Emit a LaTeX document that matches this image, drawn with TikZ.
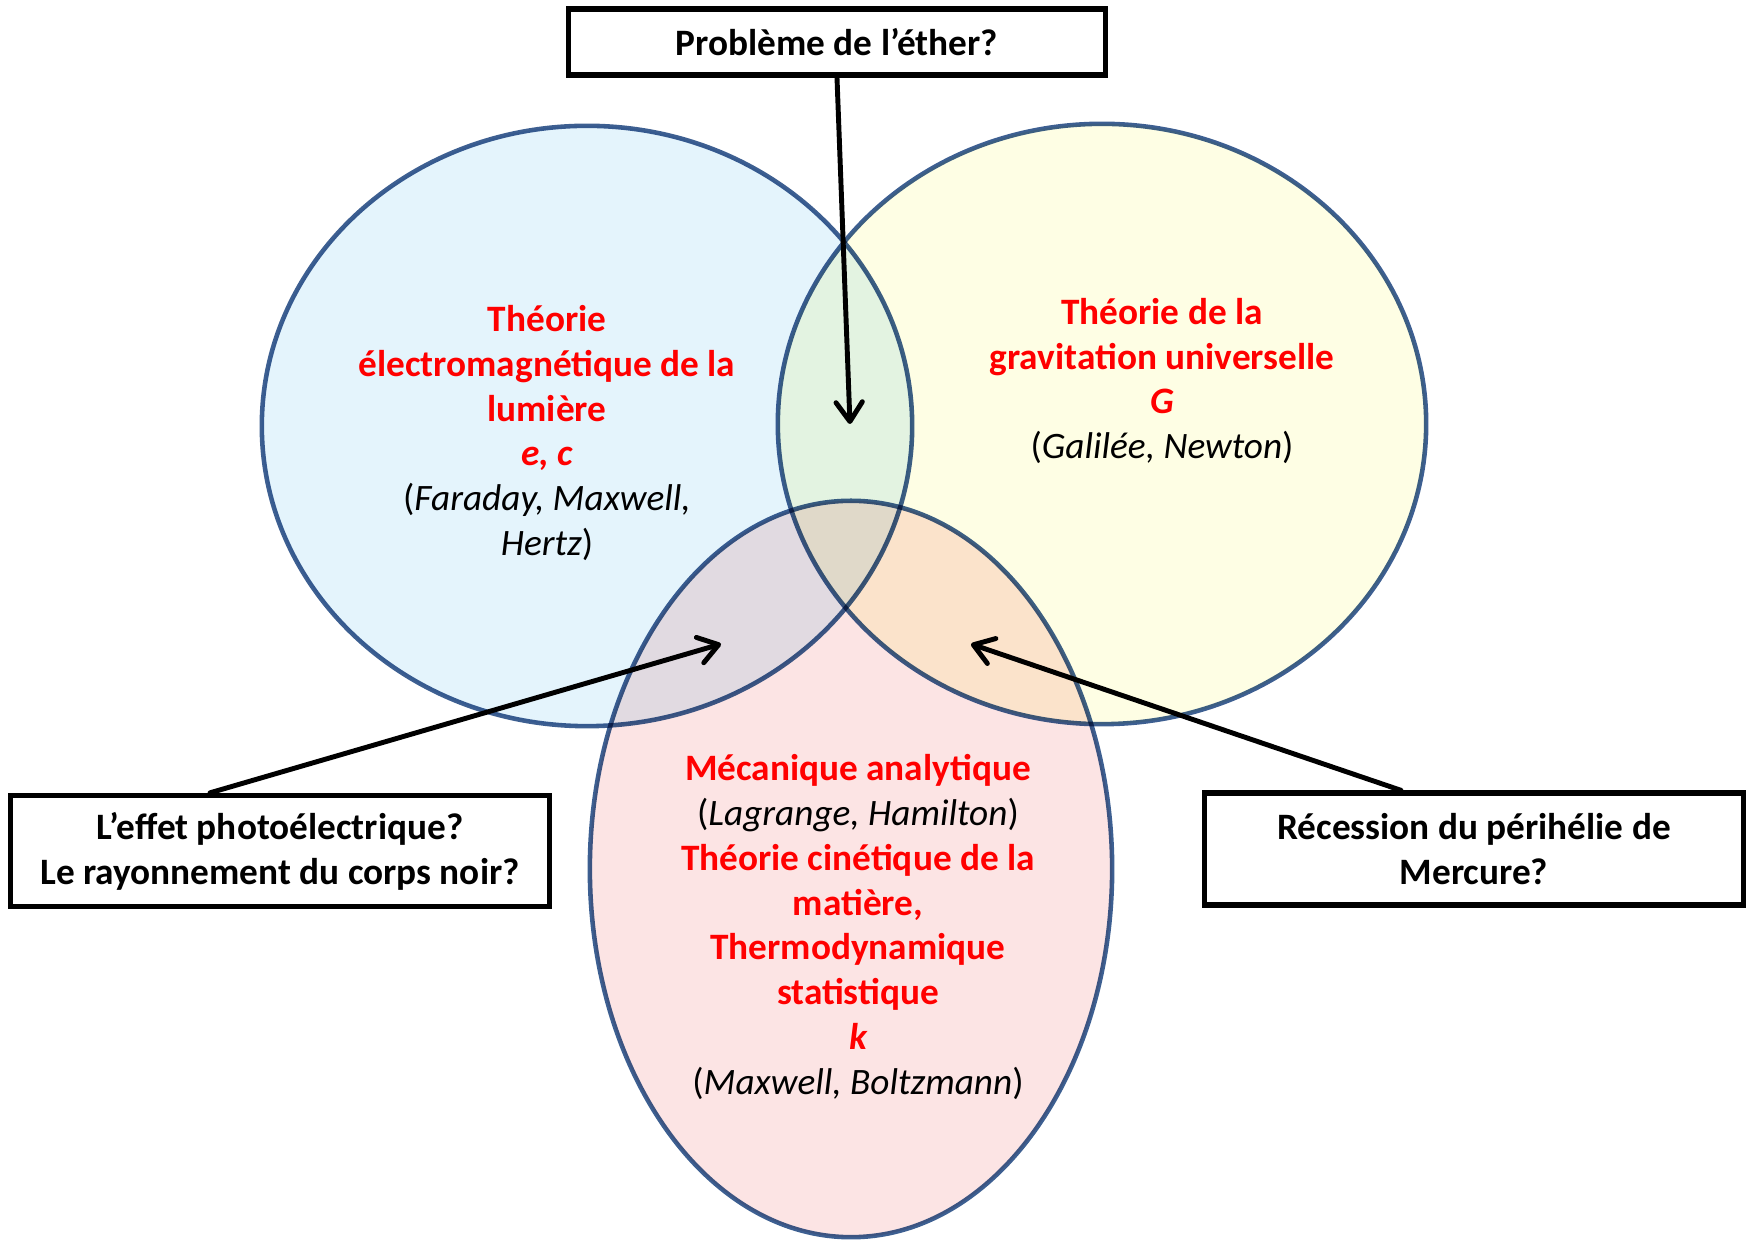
\documentclass[tikz,border=0pt]{standalone}
\usepackage{fontspec}
\setmainfont{Carlito}
\usetikzlibrary{arrows.meta}
\definecolor{bord}{RGB}{61,95,145}
\definecolor{bleu}{RGB}{228,244,252}
\definecolor{jaune}{RGB}{254,254,228}
\definecolor{rose}{RGB}{252,228,228}
\newcommand\rouge[1]{\textcolor{red}{\bfseries #1}}
\begin{document}
\begin{tikzpicture}[x=0.01cm,y=-0.01cm,>={Straight Barb[round,length=5.5pt,width=7.5pt]},
  zone/.style={draw=bord,line width=1.3pt},
  cadre/.style={draw,line width=1.5pt,fill=white,align=center,inner sep=0pt,
    font=\bfseries\fontsize{10.6}{12.75}\selectfont},
  legende/.style={align=center,inner sep=0pt,font=\fontsize{10.6}{12.75}\selectfont},
  fleche/.style={->,line width=1.4pt,line cap=round}]
 \useasboundingbox (0,0) rectangle (1750,1240);
 % les trois domaines
 \begin{scope}[blend group=multiply]
  \draw[zone,fill=bleu] (587,426) ellipse [x radius=3.25cm, y radius=3.0cm];
  \draw[zone,fill=jaune] (1102,424) ellipse [x radius=3.24cm, y radius=3.0cm];
  \draw[zone,fill=rose] (851,869) ellipse [x radius=2.61cm, y radius=3.68cm];
 \end{scope}
 \node[legende] (em) at (547,433) {\rouge{Théorie}\\ \rouge{électromagnétique de la}\\ \rouge{lumière}\\
   \rouge{\itshape e, c}\\ (\textit{Faraday, Maxwell,}\\ \textit{Hertz})};
 \node[legende] (grav) at (1162,381) {\rouge{Théorie de la}\\ \rouge{gravitation universelle}\\
   \rouge{\itshape G}\\ (\textit{Galilée, Newton})};
 \node[legende] (meca) at (858,927) {\rouge{Mécanique analytique}\\ (\textit{Lagrange, Hamilton})\\
   \rouge{Théorie cinétique de la}\\ \rouge{matière,}\\ \rouge{Thermodynamique}\\ \rouge{statistique}\\
   \rouge{\itshape k}\\ (\textit{Maxwell, Boltzmann})};
 % les questions
 \node[cadre,minimum width=5.37cm,minimum height=0.66cm] (ether) at (837,42) {Problème de l’éther?};
 \node[cadre,minimum width=5.38cm,minimum height=1.11cm] (photo) at (280,851)
   {L’effet photoélectrique?\\ Le rayonnement du corps noir?};
 \node[cadre,minimum width=5.38cm,minimum height=1.12cm] (merc) at (1474,849)
   {Récession du périhélie de\\ Mercure?};
 \coordinate (c1) at (850,424);
 \coordinate (c2) at (721,644);
 \coordinate (c3) at (971,644);
 \draw[fleche] (ether.south) -- (c1);
 \draw[fleche] (photo.north -| 210,0) -- (c2);
 \draw[fleche] (merc.north -| 1401,0) -- (c3);
\end{tikzpicture}
\end{document}
